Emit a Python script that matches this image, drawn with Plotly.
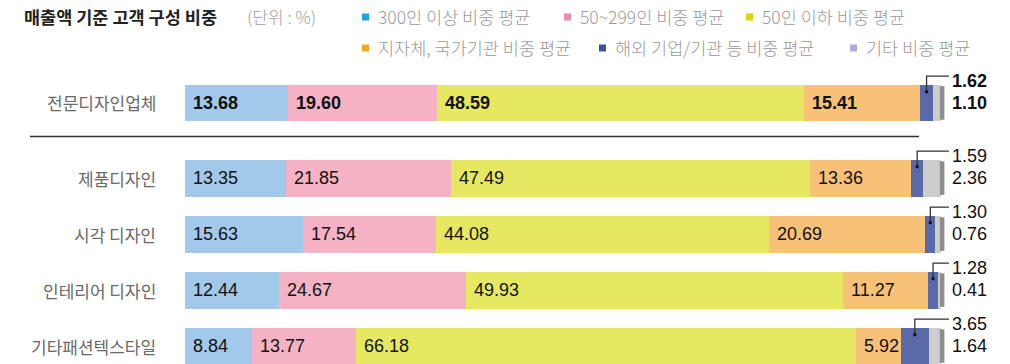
import plotly.graph_objects as go

# Customer composition by sales (%)
categories = ["전문디자인업체", "제품디자인", "시각 디자인", "인테리어 디자인", "기타패션텍스타일"]
series_names = ["300인 이상 비중 평균", "50~299인 비중 평균", "50인 이하 비중 평균",
                "지자체, 국가기관 비중 평균", "해외 기업/기관 등 비중 평균", "기타 비중 평균"]
large_firms = [13.68, 13.35, 15.63, 12.44, 8.84]
mid_firms = [19.60, 21.85, 17.54, 24.67, 13.77]
small_firms = [48.59, 47.49, 44.08, 49.93, 66.18]
public_sector = [15.41, 13.36, 20.69, 11.27, 5.92]
overseas = [1.62, 1.59, 1.30, 1.28, 3.65]
others = [1.10, 2.36, 0.76, 0.41, 1.64]

series = [large_firms, mid_firms, small_firms, public_sector, overseas, others]
bar_colors = ["#a2c8ea", "#f5b2c4", "#e5e860", "#f7c177", "#5a6aa8", "#cdcdcd"]
legend_colors = ["#1ea0e6", "#f08aaa", "#d6d800", "#f5a623", "#3f5196", "#b1a9d9"]

# vertical row positions: first row separated from the rest by a wider gap
ypos = [0] + [0.34 + i for i in range(1, len(categories))]

KR = "Noto Sans CJK KR, Noto Sans, sans-serif"
NUM = "Liberation Sans, Arial, sans-serif"

# plot-area geometry in pixels
W, H = 1010, 364
PL, PW = 185, 808
T, B = 70, 0
PH = H - T - B
ROW_PX = 56


def px_x(p):
    """horizontal pixel -> paper fraction"""
    return (p - PL) / PW


def px_y(p):
    """vertical pixel (from top) -> paper fraction"""
    return 1 + (T - p) / PH


fig = go.Figure()
for name, vals, col in zip(series_names, series, bar_colors):
    fig.add_trace(go.Bar(
        y=ypos, x=vals, name=name, orientation="h",
        marker=dict(color=col, line=dict(width=0)),
        width=0.66, showlegend=False, hoverinfo="x+name",
    ))

annotations = []
shapes = []

for r in range(len(categories)):
    bold = r == 0
    y = ypos[r]

    # value labels inside the first four segments
    start = 0.0
    for s in range(4):
        v = series[s][r]
        txt = f"{v:.2f}"
        annotations.append(dict(
            x=start, y=y, xref="x", yref="y", text=f"<b>{txt}</b>" if bold else txt,
            showarrow=False, xanchor="left", yanchor="middle", xshift=6,
            font=dict(family=NUM, size=18, color="#111"),
        ))
        start += v

    # callouts for the two small segments
    cum4 = sum(series[s][r] for s in range(4))
    ov = series[4][r]
    total = cum4 + ov + series[5][r]
    mid_ov = cum4 + ov / 2

    # leader line: dot in the overseas segment, up, then right
    shapes.append(dict(type="path", xref="x", yref="y",
                       path=(f"M {mid_ov},{y - 0.2} L {mid_ov},{y - 0.48} "
                             f"L {total + 1.05},{y - 0.48}"),
                       line=dict(color="#333", width=1.3), layer="above"))
    shapes.append(dict(type="circle", xref="x", yref="y", xsizemode="pixel", ysizemode="pixel",
                       xanchor=mid_ov, yanchor=y - 0.2, x0=-1.7, x1=1.7, y0=-1.7, y1=1.7,
                       fillcolor="#111", line=dict(width=0), layer="above"))
    # darker rounded end of the bar
    shapes.append(dict(type="rect", xref="x", yref="y",
                       x0=total - 0.15, x1=total + 0.45, y0=y - 0.30, y1=y + 0.30,
                       fillcolor="#8e8e8e", line=dict(width=0), layer="above"))
    for txt, dy in ((f"{ov:.2f}", -0.39), (f"{series[5][r]:.2f}", 0.0)):
        annotations.append(dict(
            x=total + 1.15, y=y + dy, xref="x", yref="y",
            text=f"<b>{txt}</b>" if bold else txt, showarrow=False,
            xanchor="left", yanchor="middle",
            font=dict(family=NUM, size=18, color="#111"),
        ))

    # category label
    annotations.append(dict(
        x=px_x(158), y=y, xref="paper", yref="y", text=categories[r],
        showarrow=False, xanchor="right", yanchor="middle",
        font=dict(family=KR, size=17, color="#6a6a6a"),
    ))

# separator line between first row and the rest
shapes.append(dict(type="line", xref="paper", yref="y",
                   x0=px_x(30), x1=px_x(919), y0=0.6, y1=0.6,
                   line=dict(color="#333", width=1.5)))

# title and unit
annotations.append(dict(x=px_x(22), y=px_y(17), xref="paper", yref="paper",
                        text="<b>매출액 기준 고객 구성 비중</b>",
                        showarrow=False, xanchor="left", yanchor="middle",
                        font=dict(family=KR, size=17.5, color="#222")))
annotations.append(dict(x=px_x(245), y=px_y(17), xref="paper", yref="paper", text="(단위 : %)",
                        showarrow=False, xanchor="left", yanchor="middle",
                        font=dict(family=KR, size=17, color="#a0a0a0", weight=300)))

# legend (custom layout, two rows)
legend_pos = [(365, 17), (567, 17), (749, 17), (365, 48), (602, 48), (853, 48)]
for name, col, (lx, ly) in zip(series_names, legend_colors, legend_pos):
    annotations.append(dict(x=px_x(lx + 11), y=px_y(ly), xref="paper", yref="paper", text=name,
                            showarrow=False, xanchor="left", yanchor="middle",
                            font=dict(family=KR, size=17.5, color="#9a9a9a", weight=300)))
    shapes.append(dict(type="rect", xref="paper", yref="paper",
                       x0=px_x(lx - 3), x1=px_x(lx + 4), y0=px_y(ly + 3.5), y1=px_y(ly - 3.5),
                       fillcolor=col, line=dict(width=0)))

fig.update_layout(
    barmode="stack",
    width=W, height=H,
    margin=dict(l=PL, r=W - PL - PW, t=T, b=B),
    paper_bgcolor="white", plot_bgcolor="white",
    xaxis=dict(range=[0, 100 * PW / 756], visible=False, fixedrange=True),
    yaxis=dict(range=[PH / ROW_PX - 0.589, -0.589], visible=False, fixedrange=True),
    annotations=annotations,
    shapes=shapes,
    bargap=0,
)

fig.write_html("out.html")
